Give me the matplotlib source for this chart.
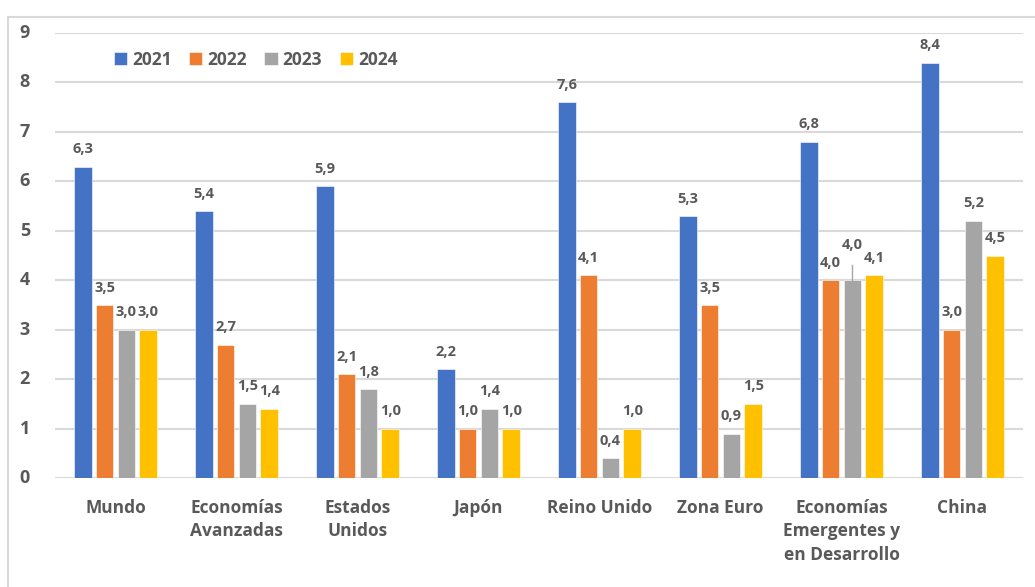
import numpy as np
import matplotlib.pyplot as plt
from matplotlib.patches import Rectangle

# data
categories = ["Mundo", "Economías\nAvanzadas", "Estados\nUnidos", "Japón",
              "Reino Unido", "Zona Euro", "Economías\nEmergentes y\nen Desarrollo", "China"]
years = ["2021", "2022", "2023", "2024"]
v2021 = [6.3, 5.4, 5.9, 2.2, 7.6, 5.3, 6.8, 8.4]
v2022 = [3.5, 2.7, 2.1, 1.0, 4.1, 3.5, 4.0, 3.0]
v2023 = [3.0, 1.5, 1.8, 1.4, 0.4, 0.9, 4.0, 5.2]
v2024 = [3.0, 1.4, 1.0, 1.0, 1.0, 1.5, 4.1, 4.5]
colors = ["#4472C4", "#ED7D31", "#A5A5A5", "#FFC000"]

txt = "#595959"
plt.rcParams['font.family'] = ['Open Sans', 'DejaVu Sans']

fig = plt.figure(figsize=(10.35, 5.87), dpi=100)
fig.patches.append(Rectangle((8 / 1035, -0.1), 1.2, 1 - 17 / 587 + 0.1, transform=fig.transFigure,
                             fill=False, edgecolor="#d9d9d9", lw=1.5, zorder=0))
ax = fig.add_axes([55 / 1035, 1 - 478 / 587, (1023 - 55) / 1035, (478 - 33) / 587])

x = np.arange(len(categories))
slot = 0.18
bw = 0.145
series = [v2021, v2022, v2023, v2024]
for i, vals in enumerate(series):
    pos = x + (i - 1.5) * slot
    ax.bar(pos, vals, bw, color=colors[i], label=years[i], edgecolor="white", lw=0.4, zorder=2)
    for j, (px, v) in enumerate(zip(pos, vals)):
        lab = f"{v:.1f}".replace(".", ",")
        if i == 2 and j == 6:
            # label pulled up with a leader line
            ax.plot([px, px], [v, v + 0.3], color="#a6a6a6", lw=1, zorder=3)
            ax.annotate(lab, (px, v), xytext=(0, 20), textcoords="offset points",
                        ha="center", va="bottom", fontsize=10.5, fontweight="bold", color=txt)
        else:
            ax.annotate(lab, (px, v), xytext=(0, 7.5), textcoords="offset points",
                        ha="center", va="bottom", fontsize=10.5, fontweight="bold", color=txt)

ax.set_xlim(-0.5, len(categories) - 0.5)
ax.set_ylim(0, 9)
ax.set_yticks(range(10))
ax.grid(axis="y", color="#d9d9d9", lw=1.5, zorder=0)
ax.set_axisbelow(True)
for s in ax.spines.values():
    s.set_visible(False)
ax.tick_params(length=0)
ax.tick_params(axis="y", pad=18, labelsize=13, labelcolor=txt)
ax.tick_params(axis="x", pad=15, labelsize=12.5, labelcolor=txt)
ax.set_xticks(x)
ax.set_xticklabels(categories, linespacing=1.4)
for lbl in ax.get_xticklabels() + ax.get_yticklabels():
    lbl.set_fontweight("bold")
    lbl.set_verticalalignment("top")
for lbl in ax.get_yticklabels():
    lbl.set_verticalalignment("center")

leg = ax.legend(loc="upper left", bbox_to_anchor=(0.045, 0.995), ncol=4, frameon=False,
                handlelength=0.75, handleheight=0.75, handletextpad=0.3, columnspacing=1.0,
                prop={"weight": "bold", "size": 12.5})
for t in leg.get_texts():
    t.set_color(txt)

fig.savefig("out.png", dpi=100)
